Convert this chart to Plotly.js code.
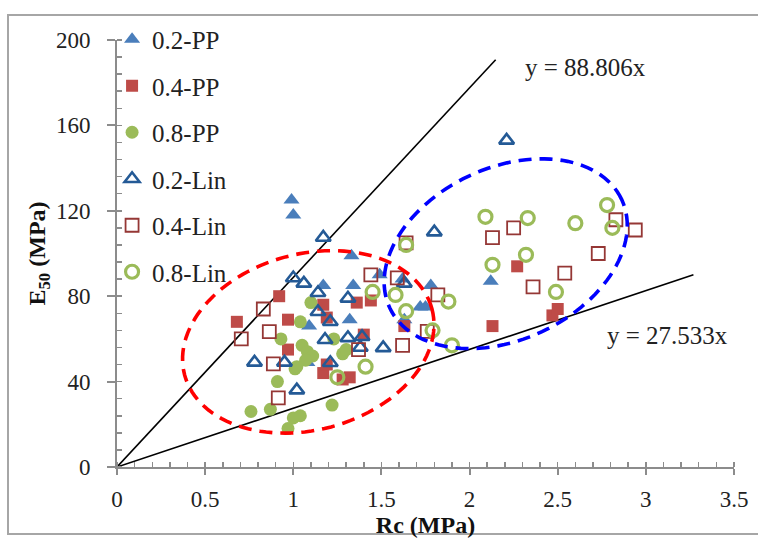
<!DOCTYPE html>
<html>
<head>
<meta charset="utf-8">
<script src="https://cdn.plot.ly/plotly-3.0.1.min.js"></script>
<style>
  html, body { margin: 0; padding: 0; background: #ffffff; }
  #frame { position: absolute; left: 7px; top: 14px; width: 760px; height: 521px; border: 2px solid #a6a6a6; box-sizing: border-box; }
  #chart { position: absolute; left: 0; top: 0; width: 758px; height: 540px; }
</style>
</head>
<body>
<div id="frame"></div>
<div id="chart"></div>
<script>
// ---- data ----
const seriesNames = ["0.2-PP", "0.4-PP", "0.8-PP", "0.2-Lin", "0.4-Lin", "0.8-Lin"];

const pp02_x = [0.99, 1.00, 1.33, 1.17, 1.34, 1.09, 1.32, 1.08, 1.49, 1.62, 1.78, 1.72, 1.75, 2.12, 1.63];
const pp02_y = [125, 118, 99, 85, 85, 66, 69, 49, 90, 88, 85, 75, 75, 87, 69];

const pp04_x = [0.68, 0.92, 0.97, 0.97, 1.17, 1.19, 1.17, 1.19, 1.28, 1.32, 1.36, 1.40, 1.44, 1.63, 2.13, 2.27, 2.47, 2.50];
const pp04_y = [68, 80, 69, 55, 76, 70, 44, 48, 41, 42, 77, 62, 78, 66, 66, 94, 71, 74];

const pp08_x = [0.76, 0.87, 0.97, 1.00, 1.04, 0.91, 0.93, 1.01, 1.04, 1.10, 1.05, 1.08, 1.11, 1.07, 1.22, 1.28, 1.23, 1.30, 1.02];
const pp08_y = [26, 27, 18, 23, 24, 40, 60, 46, 68, 77, 57, 54, 52, 50, 29, 53, 60, 55, 47];

const lin02_x = [0.78, 0.95, 1.02, 1.00, 1.06, 1.14, 1.14, 1.17, 1.21, 1.18, 1.21, 1.31, 1.31, 1.39, 1.51, 1.63, 1.80, 2.21, 1.38];
const lin02_y = [49, 49, 36, 88.5, 86, 81.6, 72.7, 107.5, 68, 59.6, 48.8, 60.5, 79, 61, 55.8, 86, 110, 153, 56];

const lin04_x = [0.705, 0.83, 0.864, 0.887, 0.915, 1.37, 1.44, 1.59, 1.64, 1.62, 1.82, 1.76, 2.13, 2.25, 2.83, 2.94, 2.73, 2.54, 2.36];
const lin04_y = [60, 74, 63.4, 48.3, 32.4, 55, 90, 88.6, 105, 57, 80.6, 63.5, 107.4, 112, 115.8, 111, 100, 90.8, 84.4];

const lin08_x = [1.25, 1.45, 1.41, 1.58, 1.64, 1.64, 1.88, 1.79, 1.90, 2.09, 2.33, 2.60, 2.78, 2.81, 2.32, 2.13, 2.49];
const lin08_y = [42, 82, 47, 80.6, 73, 104, 77.5, 64, 57, 117.2, 116.6, 114.2, 122.7, 112, 99.4, 94.7, 82];

// bounding lines y = slope * x
const lineSlopes = [88.806, 27.533];
const lineXEnd = [2.148, 3.27];
const lineLabels = ["y = 88.806x", "y = 27.533x"];

const xTickVals = [0, 0.5, 1, 1.5, 2, 2.5, 3, 3.5];
const xTickText = ["0", "0.5", "1", "1.5", "2", "2.5", "3", "3.5"];
const yTickVals = [0, 40, 80, 120, 160, 200];

// ---- styling ----
const serif = "Liberation Serif, Times New Roman, serif";
const traces = [];

lineSlopes.forEach((s, i) => {
  traces.push({
    x: [0, lineXEnd[i]], y: [0, s * lineXEnd[i]],
    mode: "lines", type: "scatter", showlegend: false, hoverinfo: "skip",
    line: { color: "#000000", width: 1.6 }
  });
});

const specs = [
  [pp02_x, pp02_y, { symbol: "triangle-up", color: "#4a7ebb", size: 14 }],
  [pp04_x, pp04_y, { symbol: "square", color: "#be4b48", size: 12 }],
  [pp08_x, pp08_y, { symbol: "circle", color: "#9bbb59", size: 13 }],
  [lin02_x, lin02_y, { symbol: "triangle-up-open", color: "#245a96", size: 13, line: { width: 2.6, color: "#245a96" } }],
  [lin04_x, lin04_y, { symbol: "square-open", color: "#953735", size: 13, line: { width: 1.8, color: "#953735" } }],
  [lin08_x, lin08_y, { symbol: "circle-open", color: "#9bbb59", size: 13, line: { width: 3.2, color: "#9bbb59" } }]
];
specs.forEach((sp, i) => {
  traces.push({
    x: sp[0], y: sp[1], name: seriesNames[i], legendgroup: "g" + i,
    mode: "markers", type: "scatter", marker: sp[2]
  });
});

// dashed ellipses (shape outlines), defined in pixel geometry then mapped to data units
const pxPerX = 617 / 3.5, pxPerY = 427 / 200;
function ellipsePath(cx, cy, a, b, angDeg) {
  const th = angDeg * Math.PI / 180;
  let d = "";
  for (let k = 0; k <= 120; k++) {
    const t = 2 * Math.PI * k / 120;
    const ex = a * Math.cos(t), ey = b * Math.sin(t);
    const px = ex * Math.cos(th) - ey * Math.sin(th);
    const py = ex * Math.sin(th) + ey * Math.cos(th);
    const X = cx + px / pxPerX, Y = cy + py / pxPerY;
    d += (k === 0 ? "M" : "L") + X.toFixed(4) + "," + Y.toFixed(3);
  }
  return d + "Z";
}

const layout = {
  width: 758, height: 540,
  paper_bgcolor: "rgba(0,0,0,0)", plot_bgcolor: "rgba(0,0,0,0)",
  margin: { l: 117, r: 24, t: 40, b: 73 },
  font: { family: serif, color: "#222222" },
  showlegend: true,
  legend: {
    x: -0.008, xanchor: "left", y: 1.055, yanchor: "top",
    font: { family: serif, size: 25, color: "#222222" },
    bgcolor: "rgba(0,0,0,0)", tracegroupgap: 11, itemwidth: 30
  },
  xaxis: {
    range: [0, 3.5], tickvals: xTickVals, ticktext: xTickText,
    showgrid: false, zeroline: false, showline: true, linecolor: "#8c8c8c", linewidth: 2,
    ticks: "outside", ticklen: 6, tickwidth: 2, tickcolor: "#8c8c8c",
    minor: { dtick: 0.1, ticks: "inside", ticklen: 5, tickwidth: 1.5, tickcolor: "#8c8c8c", showgrid: false },
    ticklabelstandoff: 4,
    tickfont: { family: serif, size: 23, color: "#222222" },
    title: { text: "<b>Rc (MPa)</b>", font: { family: serif, size: 24, color: "#111111" }, standoff: 1 },
    fixedrange: true
  },
  yaxis: {
    range: [0, 200], tickvals: yTickVals,
    showgrid: false, zeroline: false, showline: true, linecolor: "#8c8c8c", linewidth: 2,
    ticks: "outside", ticklen: 8, tickwidth: 2, tickcolor: "#8c8c8c",
    minor: { dtick: 8, ticks: "inside", ticklen: 5, tickwidth: 1.5, tickcolor: "#8c8c8c", showgrid: false },
    ticklabelstandoff: 12,
    tickfont: { family: serif, size: 23, color: "#222222" },
    title: { text: "<b>E<sub>50</sub> (MPa)</b>", font: { family: serif, size: 24, color: "#111111" }, standoff: 4 },
    fixedrange: true
  },
  annotations: [
    { x: 2.655, y: 187, xref: "x", yref: "y", text: lineLabels[0], showarrow: false, font: { family: serif, size: 25, color: "#222222" } },
    { x: 3.125, y: 61.4, xref: "x", yref: "y", text: lineLabels[1], showarrow: false, font: { family: serif, size: 25, color: "#222222" } }
  ],
  shapes: [
    { type: "path", xref: "x", yref: "y", path: ellipsePath(1.085, 58.6, 128, 88, 15), line: { color: "#ff0000", width: 3.6, dash: "13px,8px" } },
    { type: "path", xref: "x", yref: "y", path: ellipsePath(2.205, 99.9, 128, 86, 25), line: { color: "#0000ff", width: 3.6, dash: "13px,8px" } }
  ]
};

Plotly.newPlot("chart", traces, layout, { displayModeBar: false, staticPlot: true });
</script>
</body>
</html>
